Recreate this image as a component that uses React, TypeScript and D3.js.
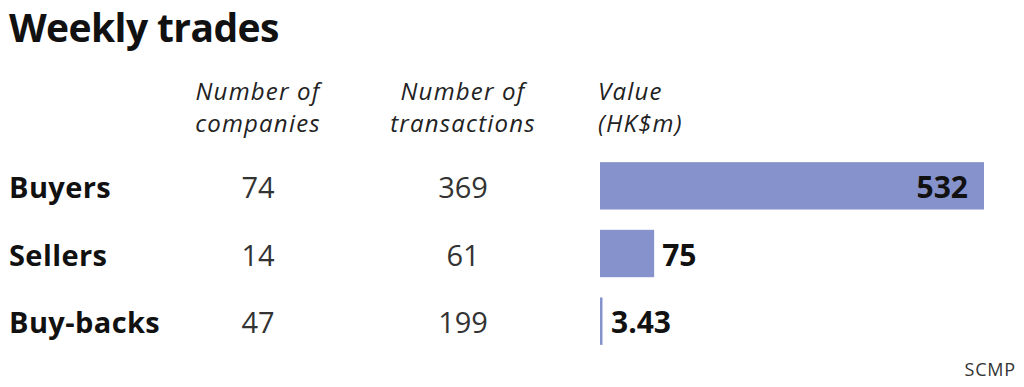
import React from 'react';
import * as d3 from 'd3';

const categories = ['Buyers', 'Sellers', 'Buy-backs'];
const companies = [74, 14, 47];
const transactions = [369, 61, 199];
const values = [532, 75, 3.43];
const valueLabels = ['532', '75', '3.43'];

const width = 1024;
const height = 387;
const font = '"Open Sans", "Noto Sans", sans-serif';

export default function App() {
  // rows
  const y = d3.scaleBand().domain(categories).range([152, 355]).paddingInner(0.3).paddingOuter(0.15);
  // value bars
  const x = d3.scaleLinear().domain([0, 532]).range([600, 984]);

  const colCompanies = 258;
  const colTransactions = 463;

  return (
    <svg width={width} height={height} style={{ position: 'absolute', left: 0, top: 0, background: '#fff' }}>
      <text x={9} y={42} fontFamily={font} fontWeight={700} fontSize={39} fill="#111" letterSpacing={-0.6}>
        Weekly trades
      </text>

      {/* column headers */}
      <g fontFamily={font} fontStyle="italic" fontSize={24} fill="#222" letterSpacing={1.2}>
        <text x={colCompanies} y={100} textAnchor="middle">Number of</text>
        <text x={colCompanies} y={132} textAnchor="middle">companies</text>
        <text x={colTransactions} y={100} textAnchor="middle">Number of</text>
        <text x={colTransactions} y={132} textAnchor="middle">transactions</text>
        <text x={598} y={100}>Value</text>
        <text x={598} y={132}>(HK$m)</text>
      </g>

      {categories.map((c, i) => {
        const top = y(c)!;
        const mid = top + y.bandwidth() / 2;
        const barEnd = x(values[i]);
        const inside = barEnd - x(0) > 100;
        return (
          <g key={c}>
            <text x={9} y={mid + 12} fontFamily={font} fontWeight={700} fontSize={29} fill="#111" letterSpacing={0.4}>
              {c}
            </text>
            <text x={colCompanies} y={mid + 12} textAnchor="middle" fontFamily={font} fontSize={29} fill="#333">
              {companies[i]}
            </text>
            <text x={colTransactions} y={mid + 12} textAnchor="middle" fontFamily={font} fontSize={29} fill="#333">
              {transactions[i]}
            </text>
            <rect x={x(0)} y={top} width={Math.max(barEnd - x(0), 2.5)} height={y.bandwidth()} fill="#8592cb" />
            <text
              x={inside ? barEnd - 16 : Math.max(barEnd, x(0) + 3) + 8}
              y={mid + 12}
              textAnchor={inside ? 'end' : 'start'}
              fontFamily={font}
              fontWeight={700}
              fontSize={30}
              fill="#111"
            >
              {valueLabels[i]}
            </text>
          </g>
        );
      })}

      <text x={1016} y={376} textAnchor="end" fontFamily={font} fontSize={18} fill="#333" letterSpacing={0.8}>
        SCMP
      </text>
    </svg>
  );
}
